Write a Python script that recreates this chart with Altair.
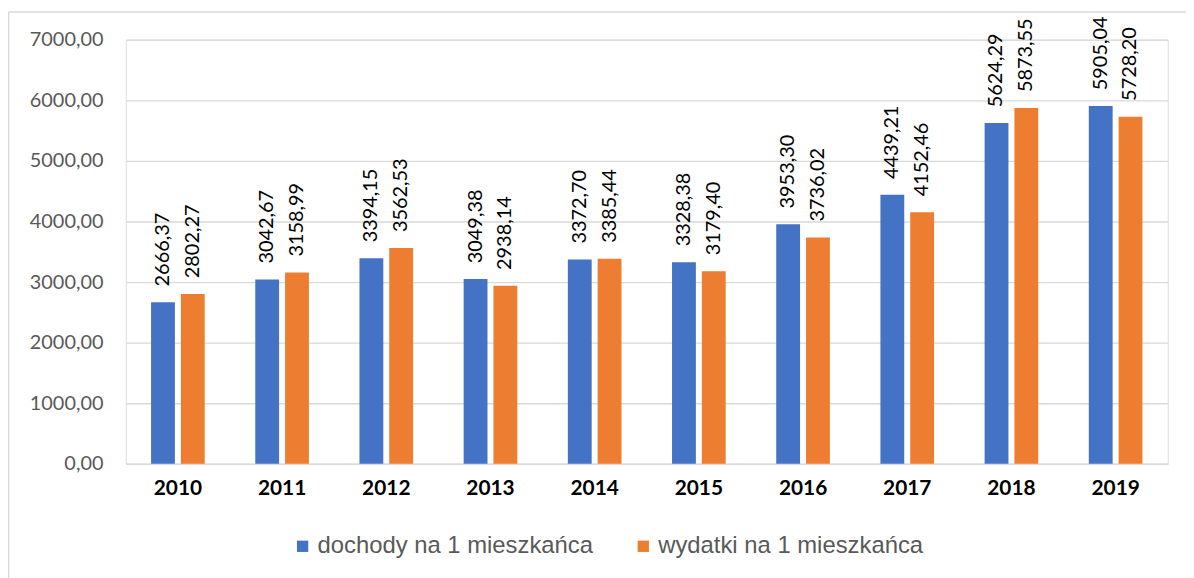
import altair as alt
import pandas as pd

years = ["2010", "2011", "2012", "2013", "2014", "2015", "2016", "2017", "2018", "2019"]
dochody = [2666.37, 3042.67, 3394.15, 3049.38, 3372.70, 3328.38, 3953.30, 4439.21, 5624.29, 5905.04]
wydatki = [2802.27, 3158.99, 3562.53, 2938.14, 3385.44, 3179.40, 3736.02, 4152.46, 5873.55, 5728.20]
series_names = ["dochody na 1 mieszkańca", "wydatki na 1 mieszkańca"]
colors = ["#4472C4", "#ED7D31"]

rows = []
for i, y in enumerate(years):
    for name, vals in zip(series_names, [dochody, wydatki]):
        v = vals[i]
        rows.append({"rok": y, "seria": name, "wartosc": v,
                     "etykieta": f"{v:.2f}".replace(".", ",")})
df = pd.DataFrame(rows)

W, H = 1049, 427

x_enc = alt.X("rok:N", sort=years, title=None,
              scale=alt.Scale(paddingInner=0.485, paddingOuter=0.2425),
              axis=alt.Axis(labelAngle=0, labelFont="Lato", labelFontWeight="bold",
                            labelFontSize=21, labelColor="#000000", labelPadding=14,
                            ticks=False, domainColor="#d9d9d9", domainWidth=1.5,
                            grid=False))
xo_enc = alt.XOffset("seria:N", sort=series_names,
                     scale=alt.Scale(paddingInner=0.2, paddingOuter=0))
y_enc = alt.Y("wartosc:Q", title=None,
              scale=alt.Scale(domain=[0, 7000], nice=False),
              axis=alt.Axis(values=[0, 1000, 2000, 3000, 4000, 5000, 6000, 7000],
                            labelExpr="replace(format(datum.value, '.2f'), '.', ',')",
                            labelFont="Lato", labelFontSize=20, labelColor="#595959",
                            labelPadding=23, ticks=False, domain=False,
                            gridColor="#d9d9d9", gridWidth=1.3))
color_enc = alt.Color("seria:N", sort=series_names,
                      scale=alt.Scale(domain=series_names, range=colors),
                      legend=alt.Legend(title=None, orient="none", direction="horizontal",
                                        legendX=166, legendY=498,
                                        symbolType="square", symbolSize=130,
                                        symbolStrokeWidth=0, labelFont="Liberation Sans",
                                        labelFontSize=24, labelColor="#595959",
                                        labelLimit=600,
                                        labelOffset=3, columnPadding=38))

base = alt.Chart(df).encode(x=x_enc, xOffset=xo_enc)

bars = base.mark_bar(size=24).encode(y=y_enc, color=color_enc)

labels = base.mark_text(angle=270, align="left", baseline="middle", dx=16,
                        font="Lato", fontSize=20, color="#000000").encode(
    y=alt.Y("wartosc:Q"), text="etykieta:N")

border_df = pd.DataFrame({"k": [0]})
left_border = alt.Chart(border_df).mark_rule(color="#d9d9d9", strokeWidth=1.5).encode(
    x=alt.value(-118), y=alt.value(-28), y2=alt.value(H + 120))
top_border = alt.Chart(border_df).mark_rule(color="#d9d9d9", strokeWidth=1.5).encode(
    x=alt.value(-118), x2=alt.value(W + 30), y=alt.value(-28))

chart = alt.layer(bars, labels, left_border, top_border).properties(
    width=W, height=H,
    autosize=alt.AutoSizeParams(type="none"),
    padding={"left": 118.6, "top": 30, "right": 18.4, "bottom": 113},
).configure_view(stroke=None).configure(background="#ffffff")

chart.save("out.html", embed_options={"renderer": "svg", "actions": False})
